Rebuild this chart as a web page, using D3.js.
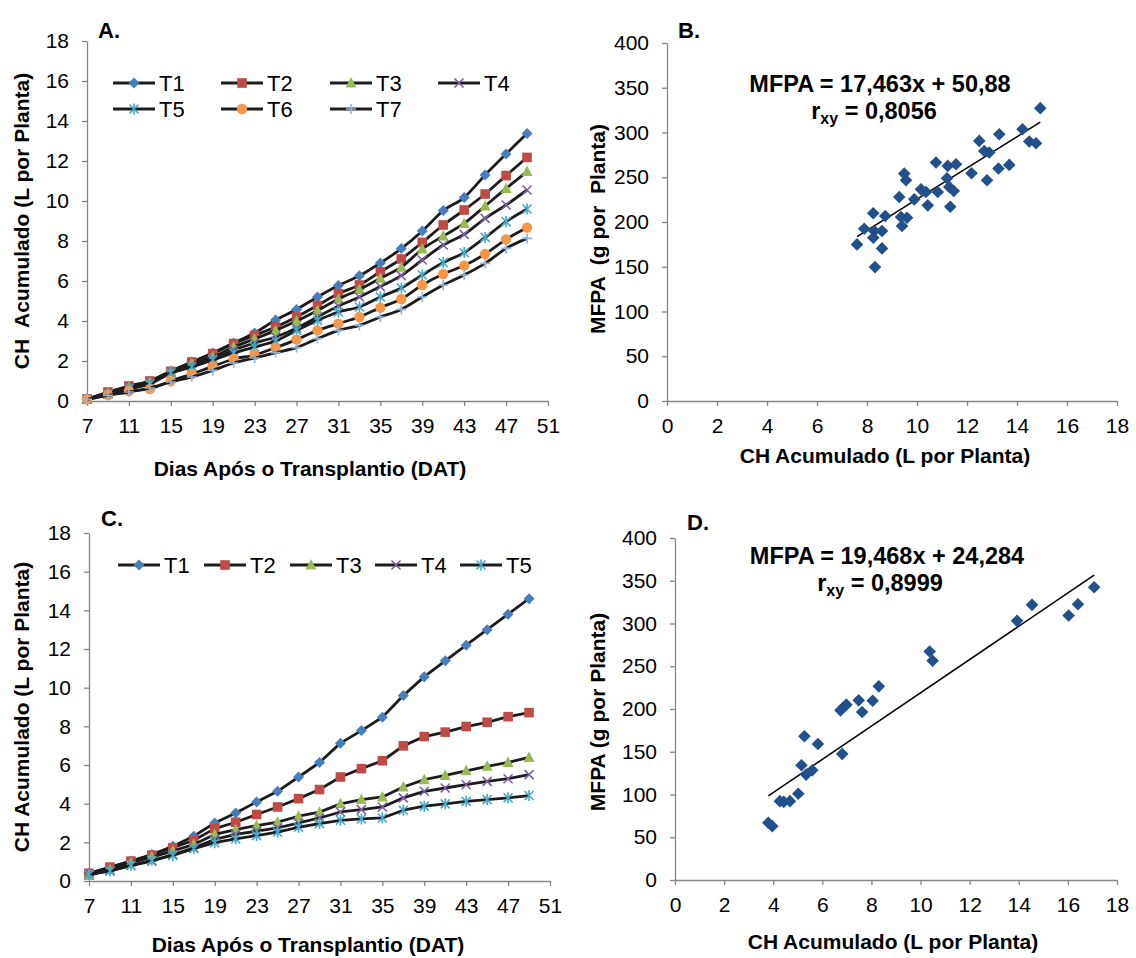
<!DOCTYPE html>
<html>
<head>
<meta charset="utf-8">
<script src="https://cdn.jsdelivr.net/npm/d3@7"></script>
<style>
  body { margin: 0; background: #fff; }
  svg { display: block; font-family: "Liberation Sans", Arial, sans-serif; }
  text { white-space: pre; }
</style>
</head>
<body>
<svg id="chart" width="1136" height="958"></svg>
<script>
// ---------- data ----------
const days = [7, 9, 11, 13, 15, 17, 19, 21, 23, 25, 27, 29, 31, 33, 35, 37, 39, 41, 43, 45, 47, 49];
const dayTicks = [7, 11, 15, 19, 23, 27, 31, 35, 39, 43, 47, 51];
const chTicks = [0, 2, 4, 6, 8, 10, 12, 14, 16, 18];
const mfpaTicks = [0, 50, 100, 150, 200, 250, 300, 350, 400];

// Panel A: accumulated CH per treatment
const namesA = ["T1", "T2", "T3", "T4", "T5", "T6", "T7"];
const a_T1 = [0.10, 0.40, 0.70, 1.00, 1.50, 1.95, 2.40, 2.90, 3.40, 4.05, 4.58, 5.20, 5.77, 6.26, 6.90, 7.62, 8.50, 9.52, 10.17, 11.30, 12.35, 13.38];
const a_T2 = [0.10, 0.45, 0.75, 1.00, 1.48, 1.95, 2.37, 2.87, 3.28, 3.70, 4.20, 4.78, 5.37, 5.80, 6.46, 7.10, 7.93, 8.80, 9.55, 10.35, 11.27, 12.18];
const a_T3 = [0.10, 0.40, 0.70, 0.95, 1.45, 1.87, 2.20, 2.70, 3.10, 3.53, 4.00, 4.53, 5.10, 5.58, 6.14, 6.69, 7.60, 8.25, 8.88, 9.75, 10.63, 11.47];
const a_T4 = [0.10, 0.35, 0.65, 0.90, 1.40, 1.75, 2.10, 2.55, 2.90, 3.20, 3.65, 4.20, 4.75, 5.20, 5.72, 6.27, 7.05, 7.80, 8.33, 9.13, 9.80, 10.55];
const a_T5 = [0.10, 0.35, 0.60, 0.85, 1.40, 1.70, 2.05, 2.40, 2.70, 3.00, 3.53, 4.03, 4.45, 4.70, 5.20, 5.65, 6.30, 6.92, 7.42, 8.18, 8.97, 9.60];
const a_T6 = [0.08, 0.30, 0.50, 0.60, 1.00, 1.35, 1.73, 2.10, 2.30, 2.67, 3.07, 3.53, 3.87, 4.20, 4.67, 5.10, 5.80, 6.35, 6.77, 7.35, 8.08, 8.67];
const a_T7 = [0.08, 0.28, 0.45, 0.65, 0.95, 1.20, 1.53, 1.90, 2.15, 2.42, 2.67, 3.12, 3.53, 3.78, 4.20, 4.58, 5.20, 5.80, 6.30, 6.88, 7.63, 8.13];

// Panel C: accumulated CH per treatment
const namesC = ["T1", "T2", "T3", "T4", "T5"];
const c_T1 = [0.40, 0.69, 1.03, 1.37, 1.80, 2.32, 3.00, 3.52, 4.09, 4.64, 5.38, 6.13, 7.13, 7.78, 8.47, 9.59, 10.57, 11.39, 12.20, 13.00, 13.80, 14.60];
const c_T2 = [0.40, 0.72, 1.03, 1.34, 1.72, 2.11, 2.71, 3.04, 3.44, 3.83, 4.26, 4.73, 5.38, 5.81, 6.22, 6.99, 7.47, 7.70, 7.99, 8.21, 8.50, 8.71];
const c_T3 = [0.29, 0.60, 0.95, 1.24, 1.55, 1.89, 2.41, 2.66, 2.87, 3.05, 3.35, 3.56, 3.99, 4.21, 4.35, 4.86, 5.24, 5.46, 5.70, 5.93, 6.13, 6.39];
const c_T4 = [0.34, 0.52, 0.80, 1.03, 1.37, 1.72, 2.15, 2.41, 2.58, 2.75, 3.00, 3.26, 3.57, 3.69, 3.83, 4.30, 4.64, 4.81, 4.98, 5.15, 5.29, 5.50];
const c_T5 = [0.34, 0.52, 0.81, 1.07, 1.32, 1.67, 1.98, 2.18, 2.35, 2.53, 2.78, 2.97, 3.14, 3.21, 3.26, 3.66, 3.87, 3.99, 4.12, 4.21, 4.30, 4.42];

// Panel B: CH accumulated vs MFPA
const b_CH = [14.93, 14.22, 13.29, 12.49, 14.49, 14.76, 12.69, 12.89, 10.76, 11.23, 11.56, 9.49, 9.56, 13.69, 13.26, 12.18, 11.20, 12.80, 10.16, 10.36, 10.83, 11.29, 11.47, 9.29, 9.89, 10.43, 11.33, 9.40, 9.36, 9.60, 8.73, 8.25, 7.89, 8.60, 8.29, 8.25, 7.60, 8.60, 8.32];
const b_MFPA = [327.2, 303.7, 298.1, 290.6, 289.9, 288.0, 279.4, 277.6, 266.4, 262.7, 264.5, 254.1, 246.6, 263.8, 259.7, 254.5, 248.9, 246.6, 236.5, 233.6, 233.6, 239.2, 234.7, 228.0, 225.3, 218.6, 217.1, 195.5, 205.6, 204.8, 206.7, 209.7, 192.5, 189.9, 189.9, 182.4, 175.0, 170.5, 149.6];
const b_slope = 17.463, b_intercept = 50.88;
const b_eq = "MFPA = 17,463x + 50,88";
const b_r = "0,8056";

// Panel D: CH accumulated vs MFPA
const d_CH = [3.80, 3.96, 4.27, 4.43, 4.68, 5.02, 5.15, 5.27, 5.34, 5.59, 5.82, 6.81, 6.74, 6.87, 6.98, 7.48, 7.62, 8.05, 8.30, 10.37, 10.49, 13.93, 14.54, 16.03, 16.41, 17.07];
const d_MFPA = [66.9, 63.0, 92.2, 91.4, 92.2, 100.8, 134.2, 168.1, 123.3, 128.4, 159.1, 147.5, 198.4, 202.3, 205.1, 210.1, 196.5, 209.7, 226.5, 267.3, 256.4, 303.1, 321.8, 309.3, 322.6, 342.4];
const d_slope = 19.468, d_intercept = 24.284;
const d_eq = "MFPA = 19,468x + 24,284";
const d_r = "0,8999";

// ---------- styles ----------
const AXIS = "#868686";
const LINE = "#1c1c1c";
const SCAT = "#23508a";
const styleOf = {
  T1: { shape: "diamond", color: "#4a7ebb" },
  T2: { shape: "square", color: "#be4b48" },
  T3: { shape: "triangle", color: "#98b954" },
  T4: { shape: "x", color: "#7d60a0" },
  T5: { shape: "star", color: "#46aac5" },
  T6: { shape: "circle", color: "#f79646" },
  T7: { shape: "plus", color: "#95b3d7" }
};

const svg = d3.select("#chart");
svg.append("rect").attr("width", 1136).attr("height", 958).attr("fill", "#fff");

function drawMarker(g, shape, color, x, y, scale = 1) {
  const r = 5.5 * scale;
  switch (shape) {
    case "diamond":
      g.append("path").attr("d", `M${x},${y - r}L${x + r},${y}L${x},${y + r}L${x - r},${y}Z`).attr("fill", color);
      break;
    case "square":
      g.append("rect").attr("x", x - 4.8 * scale).attr("y", y - 4.8 * scale)
        .attr("width", 9.6 * scale).attr("height", 9.6 * scale).attr("fill", color);
      break;
    case "triangle":
      g.append("path").attr("d", `M${x},${y - 6 * scale}L${x + 5.5 * scale},${y + 4.5 * scale}L${x - 5.5 * scale},${y + 4.5 * scale}Z`).attr("fill", color);
      break;
    case "circle":
      g.append("circle").attr("cx", x).attr("cy", y).attr("r", 5.2 * scale).attr("fill", color);
      break;
    case "x": {
      const s = 4.5 * scale;
      g.append("path").attr("d", `M${x - s},${y - s}L${x + s},${y + s}M${x - s},${y + s}L${x + s},${y - s}`)
        .attr("stroke", color).attr("stroke-width", 1.6).attr("fill", "none");
      break;
    }
    case "star": {
      const s = 4.5 * scale;
      g.append("path").attr("d", `M${x - s},${y - s}L${x + s},${y + s}M${x - s},${y + s}L${x + s},${y - s}M${x},${y - s - 1}L${x},${y + s + 1}`)
        .attr("stroke", color).attr("stroke-width", 1.6).attr("fill", "none");
      break;
    }
    case "plus": {
      const s = 5 * scale;
      g.append("path").attr("d", `M${x - s},${y}L${x + s},${y}M${x},${y - s}L${x},${y + s}`)
        .attr("stroke", color).attr("stroke-width", 1.6).attr("fill", "none");
      break;
    }
  }
}

function text(g, x, y, s, opt = {}) {
  const t = g.append("text").attr("x", x).attr("y", y)
    .attr("font-size", opt.size || 21)
    .attr("font-weight", opt.bold ? "bold" : "normal")
    .attr("text-anchor", opt.anchor || "start")
    .attr("fill", "#000")
    .text(s);
  if (opt.rotate) t.attr("transform", `rotate(${opt.rotate},${x},${y})`);
  return t;
}

function axes(g, x, y, xt, yt) {
  const gx = g.append("g").attr("transform", `translate(0,${y.range()[0]})`)
    .call(d3.axisBottom(x).tickValues(xt).tickSize(5).tickSizeOuter(0).tickPadding(12));
  const gy = g.append("g").attr("transform", `translate(${x.range()[0]},0)`)
    .call(d3.axisLeft(y).tickValues(yt).tickSize(5).tickSizeOuter(0).tickPadding(13));
  [gx, gy].forEach(a => {
    a.select(".domain").attr("stroke", AXIS).attr("stroke-width", 1.3);
    a.selectAll(".tick line").attr("stroke", AXIS).attr("stroke-width", 1.3);
    a.selectAll(".tick text").attr("font-size", 21).attr("fill", "#000")
      .attr("font-family", '"Liberation Sans", Arial, sans-serif');
  });
}

function linePanel(cfg) {
  const g = svg.append("g");
  const x = d3.scaleLinear().domain([7, 51]).range(cfg.xr);
  const y = d3.scaleLinear().domain([0, 18]).range(cfg.yr);
  axes(g, x, y, dayTicks, chTicks);
  const gen = d3.line().x(d => x(d[0])).y(d => y(d[1])).curve(cfg.curve);
  cfg.series.forEach(([name, vals]) => {
    const pts = days.map((d, i) => [d, vals[i]]);
    g.append("path").attr("d", gen(pts)).attr("fill", "none")
      .attr("stroke", LINE).attr("stroke-width", 2.8).attr("stroke-linejoin", "round");
    const st = styleOf[name];
    pts.forEach(p => drawMarker(g, st.shape, st.color, x(p[0]), y(p[1])));
  });
  // legend
  cfg.legend.forEach(it => {
    const [name, lx, ly] = it;
    g.append("line").attr("x1", lx).attr("x2", lx + 42).attr("y1", ly).attr("y2", ly)
      .attr("stroke", LINE).attr("stroke-width", 2.8);
    const st = styleOf[name];
    drawMarker(g, st.shape, st.color, lx + 21, ly);
    text(g, lx + 46, ly + 7.5, name, { size: 22 });
  });
  text(g, cfg.label[1], cfg.label[2], cfg.label[0], { size: 22, bold: true });
  text(g, cfg.xt[0], cfg.xt[1], "Dias Após o Transplantio (DAT)", { bold: true, anchor: "middle" });
  text(g, cfg.yt[1], cfg.yt[2], cfg.yt[0], { bold: true, anchor: "middle", rotate: -90 });
}

function scatterPanel(cfg) {
  const g = svg.append("g");
  const x = d3.scaleLinear().domain([0, 18]).range(cfg.xr);
  const y = d3.scaleLinear().domain([0, 400]).range(cfg.yr);
  axes(g, x, y, chTicks, mfpaTicks);
  const x0 = d3.min(cfg.xs), x1 = d3.max(cfg.xs);
  g.append("line")
    .attr("x1", x(x0)).attr("y1", y(cfg.slope * x0 + cfg.intercept))
    .attr("x2", x(x1)).attr("y2", y(cfg.slope * x1 + cfg.intercept))
    .attr("stroke", "#000").attr("stroke-width", 1.5);
  cfg.xs.forEach((v, i) => {
    const px = x(v), py = y(cfg.ys[i]), r = 6.3;
    g.append("path").attr("d", `M${px},${py - r}L${px + r},${py}L${px},${py + r}L${px - r},${py}Z`).attr("fill", SCAT);
  });
  text(g, cfg.eqPos[0], cfg.eqPos[1], cfg.eq, { bold: true, anchor: "middle", size: 23.5 });
  const rt = g.append("text").attr("x", cfg.rPos[0]).attr("y", cfg.rPos[1])
    .attr("font-size", 23.5).attr("font-weight", "bold").attr("text-anchor", "middle");
  rt.append("tspan").text("r");
  rt.append("tspan").attr("font-size", 16).attr("dy", 5).text("xy");
  rt.append("tspan").attr("dy", -5).text(" = " + cfg.r);
  text(g, cfg.label[1], cfg.label[2], cfg.label[0], { size: 22, bold: true });
  text(g, cfg.xt[0], cfg.xt[1], "CH Acumulado (L por Planta)", { bold: true, anchor: "middle" });
  text(g, cfg.yt[1], cfg.yt[2], cfg.yt[0], { bold: true, anchor: "middle", rotate: -90 });
}

linePanel({
  xr: [87, 548], yr: [401, 41], curve: d3.curveCardinal.tension(0.15),
  series: [["T1", a_T1], ["T2", a_T2], ["T3", a_T3], ["T4", a_T4], ["T5", a_T5], ["T6", a_T6], ["T7", a_T7]],
  legend: [["T1", 113, 83], ["T2", 221, 83], ["T3", 330, 83], ["T4", 438, 83],
           ["T5", 113, 109], ["T6", 221, 109], ["T7", 330, 109]],
  label: ["A.", 98, 38],
  xt: [310, 476],
  yt: ["CH  Acumulado (L por Planta)", 29, 221]
});

scatterPanel({
  xr: [667, 1117], yr: [401, 43],
  xs: b_CH, ys: b_MFPA, slope: b_slope, intercept: b_intercept,
  eq: b_eq, r: b_r, eqPos: [880, 92], rPos: [874, 119],
  label: ["B.", 678, 38],
  xt: [885, 463],
  yt: ["MFPA  (g por  Planta)", 605, 229]
});

linePanel({
  xr: [89, 550], yr: [881, 533], curve: d3.curveLinear,
  series: [["T1", c_T1], ["T2", c_T2], ["T3", c_T3], ["T4", c_T4], ["T5", c_T5]],
  legend: [["T1", 118, 565], ["T2", 204, 565], ["T3", 290, 565], ["T4", 375, 565], ["T5", 460, 565]],
  label: ["C.", 101, 526],
  xt: [308, 952],
  yt: ["CH Acumulado (L por Planta)", 29, 707]
});

scatterPanel({
  xr: [675, 1117], yr: [880, 538],
  xs: d_CH, ys: d_MFPA, slope: d_slope, intercept: d_intercept,
  eq: d_eq, r: d_r, eqPos: [887, 564], rPos: [880, 591],
  label: ["D.", 687, 530],
  xt: [893, 949],
  yt: ["MFPA (g por Planta)", 605, 712]
});
</script>
</body>
</html>
